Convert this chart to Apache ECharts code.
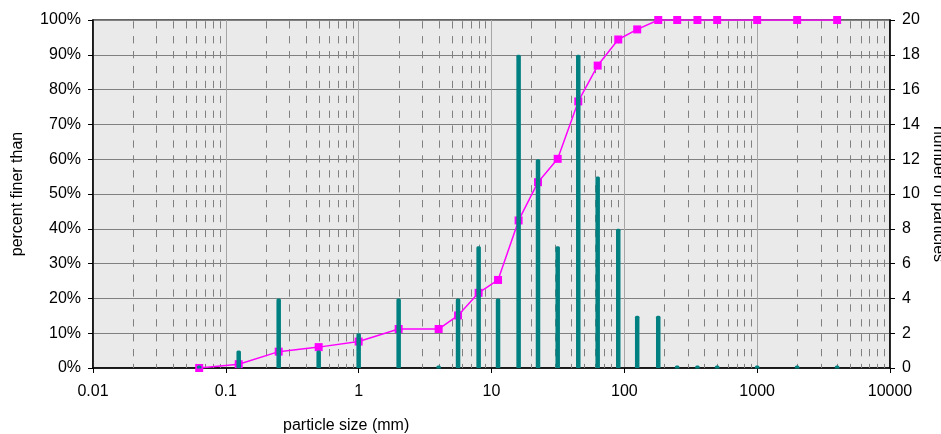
<!DOCTYPE html>
<html><head><meta charset="utf-8">
<script src="https://cdn.jsdelivr.net/npm/echarts@6/dist/echarts.min.js"></script>
<style>html,body{margin:0;padding:0;background:#fff}#c{width:941px;height:434px}</style>
</head><body><div id="c"></div>
<script>
const sizes = [0.063,0.125,0.25,0.5,1,2,4,5.6,8,11.2,16,22.4,31.5,45,63,90,125,180,250,355,500,1000,2000,4000];
const percentFiner = [0,1.1,4.7,6,7.6,11.2,11.2,15.1,21.6,25.3,42.4,53.4,60.1,76.6,86.9,94.4,97.3,100,100,100,100,100,100,100];
const particleCounts = [0,1,4,1,2,4,0,4,7,4,18,12,7,18,11,8,3,3,0,0,0,0,0,0];
const xTickLabels = ['0.01','0.1','1','10','100','1000','10000'];
const decades = [0.01,0.1,1,10,100,1000];
const minorMultipliers = [2,3,4,5,6,7,8,9];

const FONT = 'Liberation Sans, Arial, sans-serif';
const minorLines = [];
decades.forEach(d => minorMultipliers.forEach(m => minorLines.push([+(d*m).toPrecision(6), 0])));

const chart = echarts.init(document.getElementById('c'), null, {renderer:'canvas'});
chart.setOption({
  animation: false,
  grid: {left: 93, right: 51, top: 20, bottom: 66, show: true, backgroundColor: '#EAEAEA', borderColor: '#333', borderWidth: 1.5,
    containLabel: false, outerBoundsMode: 'none'},
  xAxis: {
    type: 'log', logBase: 10, min: 0.01, max: 10000,
    axisLine: {show: true, lineStyle: {color: '#000', width: 1.5}},
    axisTick: {show: true, length: 5, lineStyle: {color: '#000', width: 1}},
    splitLine: {show: true, lineStyle: {color: '#A6A6A6', width: 1}},
    axisLabel: {fontSize: 16, color: '#000', fontFamily: FONT, margin: 16,
      formatter: v => { const s = xTickLabels.find(l => Math.abs(Math.log10(+l) - Math.log10(v)) < 1e-6); return s || ''; }}
  },
  yAxis: [{
    type: 'value', min: 0, max: 100, interval: 10, position: 'left',
    name: 'percent finer than', nameLocation: 'middle', nameGap: 67,
    nameTextStyle: {fontSize: 16, color: '#000', fontFamily: FONT},
    axisLine: {show: true, lineStyle: {color: '#000', width: 1.5}},
    axisTick: {show: true, length: 5, lineStyle: {color: '#000'}},
    splitLine: {show: true, lineStyle: {color: '#808080', width: 1}},
    axisLabel: {fontSize: 16, color: '#000', fontFamily: FONT, margin: 12, formatter: '{value}%'}
  }, {
    type: 'value', min: 0, max: 20, interval: 2, position: 'right',
    name: 'number of particles', nameLocation: 'middle', nameGap: 40, nameRotate: -90,
    nameTextStyle: {fontSize: 16, color: '#000', fontFamily: FONT},
    axisLine: {show: true, lineStyle: {color: '#000', width: 1.5}},
    axisTick: {show: true, length: 5, lineStyle: {color: '#000'}},
    splitLine: {show: false},
    axisLabel: {fontSize: 16, color: '#000', fontFamily: FONT, margin: 12}
  }],
  graphic: [{type: 'text', left: 283, top: 418, style: {text: 'particle size (mm)', font: '16px ' + FONT, fill: '#000'}}],
  series: [{
    type: 'custom', name: 'minor', silent: true, z: 1, xAxisIndex: 0, yAxisIndex: 0,
    data: minorLines, encode: {x: 0, y: 1},
    renderItem: (params, api) => {
      const x = api.value(0);
      const t = api.coord([x, 100]), b = api.coord([x, 0]);
      return {type: 'line', shape: {x1: Math.round(t[0]) + 0.5, y1: t[1] + 1.2, x2: Math.round(b[0]) + 0.5, y2: b[1]},
        style: {stroke: '#808080', lineWidth: 1, lineDash: [7.3, 7.6]}};
    }
  }, {
    type: 'line', name: 'percent finer than', yAxisIndex: 0, z: 3,
    data: sizes.map((s, i) => [s, percentFiner[i]]),
    symbol: 'rect', symbolSize: 8,
    lineStyle: {color: '#FF00FF', width: 1.5},
    itemStyle: {color: '#FF00FF'}
  }, {
    type: 'custom', name: 'number of particles', yAxisIndex: 1, z: 4,
    data: sizes.map((s, i) => [s, particleCounts[i]]), encode: {x: 0, y: 1},
    renderItem: (params, api) => {
      const x = api.value(0), v = api.value(1);
      const base = api.coord([x, 0]), top = api.coord([x, v]);
      const w = 4.5;
      let y1 = top[1], y2 = base[1];
      if (y2 - y1 < 3) { y1 = base[1] - 2.5; y2 = base[1] + 0.5; }
      return {type: 'rect', shape: {x: base[0] - w / 2, y: y1, width: w, height: y2 - y1, r: [1.5, 1.5, 0, 0]},
        style: {fill: '#008080'}};
    }
  }]
});
</script></body></html>
